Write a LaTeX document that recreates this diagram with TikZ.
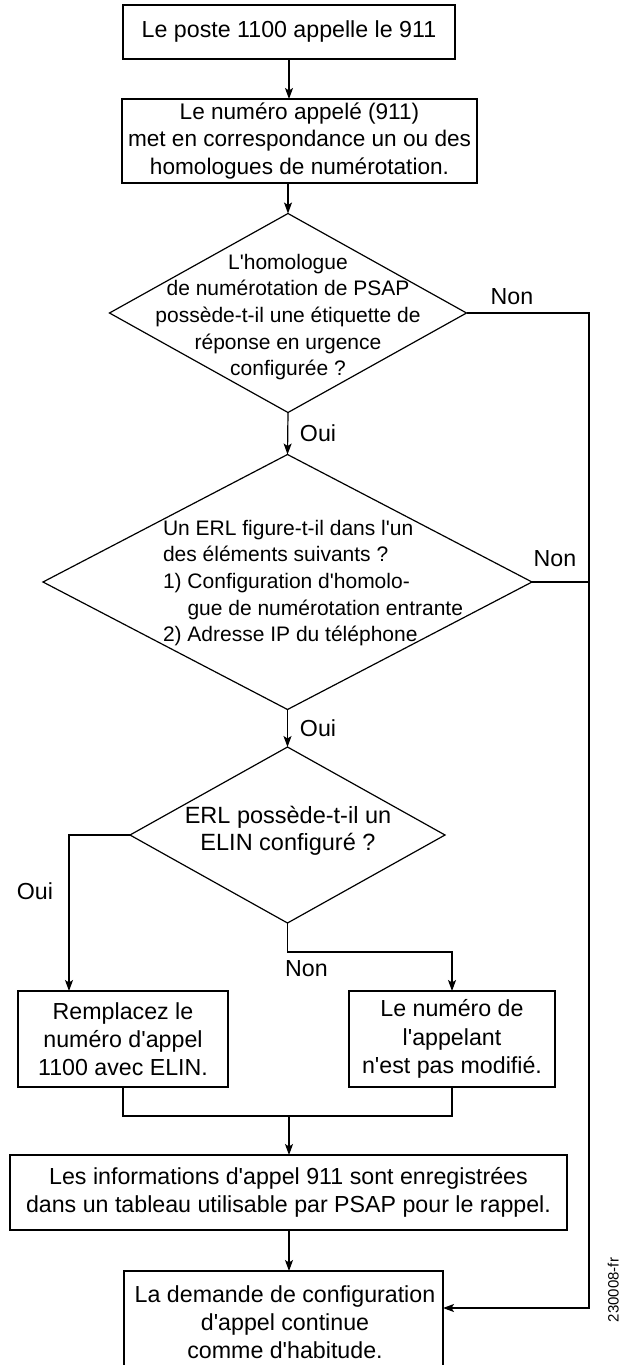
\documentclass[tikz,border=0pt]{standalone}
\usepackage{fontspec}
\setmainfont{Liberation Sans}[Ligatures=TeXOff]
\usetikzlibrary{shapes.geometric,arrows.meta}
\begin{document}
\begin{tikzpicture}[x=1pt,y=-1pt,
  line width=1.2pt,
  every node/.style={inner sep=0pt, outer sep=0pt, text=black},
  boxtxt/.style={font=\fontsize{23.2}{28.3}\selectfont},
  stepbox/.style={draw, boxtxt, align=center},
  decision/.style={draw, diamond, inner sep=0pt},
  dtxt/.style={font=\fontsize{21}{26.6}\selectfont},
  lbl/.style={font=\fontsize{23.2}{28}\selectfont},
  arr/.style={-{Stealth[length=11pt,width=8pt,inset=2.5pt]}}
]
\useasboundingbox (0,0) rectangle (620,1365);
\clip (0,0) rectangle (620,1365);

% boxes
\node[stepbox, minimum width=332pt, minimum height=54pt] (b1) at (289,32) {Le poste 1100 appelle le 911};
\node[stepbox, minimum width=355pt, minimum height=84pt, font=\fontsize{22.6}{27.5}\selectfont] (b2) at (299.5,141) {Le numéro appelé (911)\\met en correspondance un ou des\\homologues de numérotation.};

% decisions
\node[decision, minimum width=357pt, minimum height=199pt] (d1) at (288,313) {};
\node[dtxt, align=center] (d1t) at (288,317) {L'homologue\\de numérotation de PSAP\\possède-t-il une étiquette de\\réponse en urgence\\configurée ?};

\node[decision, minimum width=489pt, minimum height=255pt] (d2) at (287.5,582) {};
\node[dtxt, align=left, anchor=west] (d2t) at (163,583) {Un ERL figure-t-il dans l'un\\des éléments suivants ?\\1) Configuration d'homolo-\\\hphantom{1)}\ gue de numérotation entrante\\2) Adresse IP du téléphone};

\node[decision, minimum width=315pt, minimum height=176pt] (d3) at (287.5,835) {};
\node[align=center, font=\fontsize{23.5}{26.5}\selectfont] (d3t) at (288,831) {ERL possède-t-il un\\ELIN configuré ?};

\node[stepbox, minimum width=210pt, minimum height=96pt] (b5) at (123,1039) {Remplacez le\\numéro d'appel\\1100 avec ELIN.};
\node[stepbox, minimum width=206pt, minimum height=96pt] (b6) at (452,1039) {Le numéro de\\l'appelant\\n'est pas modifié.};
\node[stepbox, minimum width=557pt, minimum height=75pt] (b7) at (288.5,1192.5) {Les informations d'appel 911 sont enregistrées\\dans un tableau utilisable par PSAP pour le rappel.};
\node[draw, minimum width=319pt, minimum height=116pt] (b8) at (283.5,1329) {};
\node[boxtxt, align=center, anchor=south] (b8t) at (285,1359) {La demande de configuration\\d'appel continue\\comme d'habitude.};

% helper coordinates
\coordinate (rail) at (589,1308);
\coordinate (lft) at (69,835);
\coordinate (jn) at (289,1116);

% connectors
\draw[arr] (b1) -- (b1 |- b2.north);
\draw[arr] (d1.north |- b2.south) -- (d1.north);
\draw[arr] (d1.south) -- (d2.north);
\draw[arr] (d2.south) -- (d3.north);
\draw[arr] (d1.east) -- (d1.east -| rail) -- (rail) -- (rail -| b8.east);
\draw (d2.east) -- (d2.east -| rail);
\draw[arr] (d3.west) -- (lft) -- (lft |- b5.north);
\draw[arr] (d3.south) -- ++(0,29) -| (b6.north);
\draw (b5.south) -- (b5.south |- jn) -- (b6.south |- jn) -- (b6.south);
\draw[arr] (jn) -- (jn |- b7.north);
\draw[arr] (b7.south -| jn) -- (jn |- b8.north);

% labels
\node[lbl] (l1) at (512,297) {Non};
\node[lbl] (l2) at (318,433) {Oui};
\node[lbl] (l3) at (555,559) {Non};
\node[lbl] (l4) at (318,728) {Oui};
\node[lbl] (l5) at (35,891) {Oui};
\node[lbl] (l6) at (306.5,969) {Non};

\node[rotate=90, anchor=base, font=\fontsize{15}{15}\selectfont] (fig) at (618.5,1290) {230008-fr};
\end{tikzpicture}
\end{document}
